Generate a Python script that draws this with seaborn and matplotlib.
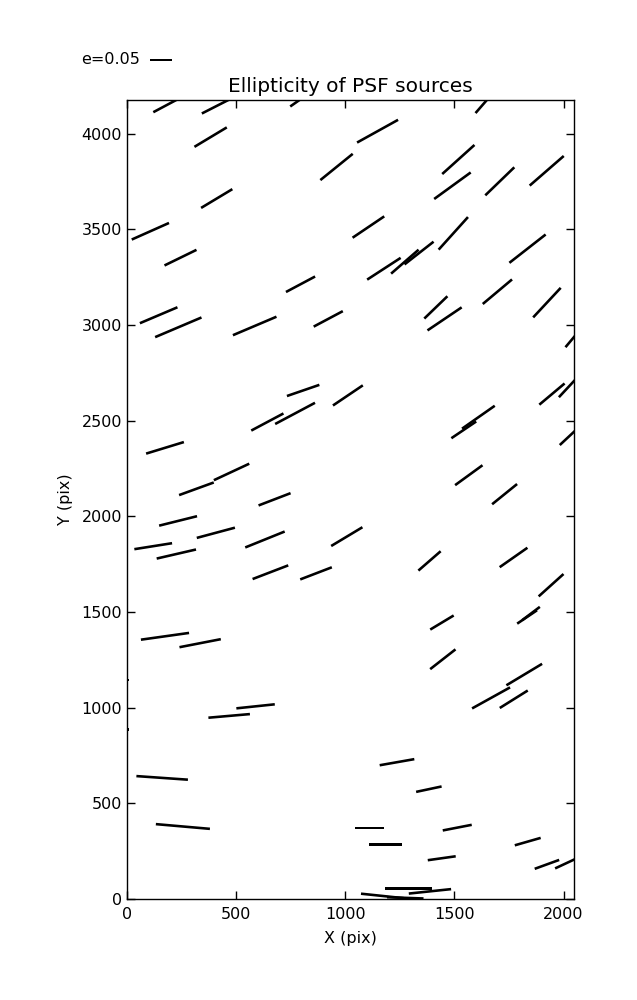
"""PSF ellipticity whisker plot (e, position angle) over the detector."""
import numpy as np
import pandas as pd
import matplotlib
matplotlib.use('Agg')
import matplotlib.pyplot as plt
import seaborn as sns

# source positions (pix), ellipticity and position angle (deg)
src_x = [181, 404, 804, 383, 960, 411, 107, 245, 795, 145, 235, 585, 922,
         1645, 1148, 1518, 1491, 1708, 1923, 1106, 1495, 1177, 1273, 1338, 1835,
         1415, 1455, 1697, 1924, 2053, 807, 643, 770, 1012, 174, 318, 479, 676,
         234, 407, 120, 226, 632, 657, 866, 1007, 174, 1947, 2029, 1543, 1610,
         2033, 1566, 1730, 1386, 1771, 1943, 1443, 1833, 1851, 335, 468, 589,
         161, 256, 1447, 1820, 1668, 1772, 1237, 1383, 1109, 1513, 1184, 1836,
         1442, 1924, 2020, 1291, 1170, 1275, 1388, -40, -40]
src_y = [4149, 4141, 4187, 3982, 3826, 3661, 3490, 3352, 3213, 3051, 2988, 2995, 3032,
         4171, 4013, 3865, 3728, 3751, 3806, 3512, 3479, 3294, 3331, 3376, 3399,
         3092, 3032, 3174, 3117, 2944, 2658, 2493, 2538, 2632, 2358, 2144, 2232, 2089,
         1976, 1914, 1844, 1803, 1879, 1708, 1702, 1894, 1373, 2639, 2684, 2452, 2518,
         2426, 2215, 2116, 1767, 1785, 1640, 1445, 1474, 1492, 1337, 957, 1007,
         633, 379, 1253, 1173, 1051, 1044, 715, 574, 371, 373, 286, 300,
         213, 181, 191, 54, 16, 6, 40, 1144, 886]
ell = [.069, .069, .069, .087, .096, .084, .094, .082, .076, .094, .116, .109, .076,
       .074, .108, .100, .104, .093, .104, .088, .101, .092, .084, .085, .106,
       .074, .095, .088, .093, .069, .079, .084, .104, .083, .091, .085, .090, .079,
       .090, .091, .088, .093, .098, .088, .078, .084, .112, .076, .074, .069, .092,
       .069, .078, .074, .068, .078, .077, .063, .055, .051, .097, .096, .089,
       .119, .125, .074, .096, .100, .076, .081, .060, .067, .068, .075, .062,
       .065, .060, .065, .108, .099, .084, .098, .05, .05]
pa = [28, 27, 35, 31, 39, 31, 24, 26, 28, 23, 23, 23, 28,
      49, 29, 42, 36, 44, 41, 34, 48, 33, 41, 38, 38,
      44, 34, 40, 47, 50, 19, 28, 28, 34, 17, 20, 25, 21,
      14, 15, 9, 13, 22, 21, 21, 31, 8, 40, 47, 34, 35,
      43, 36, 39, 41, 35, 42, 31, 34, 37, 11, 5, 6,
      -4, -5, 38, 31, 29, 32, 10, 12, 0, 11, 0, 16,
      8, 20, 25, 0, -6, -2, 6, 0, 0]

df = pd.DataFrame({'x': src_x, 'y': src_y, 'e': ell, 'pa': pa})
df['u'] = df['e'] * np.cos(np.radians(df['pa']))
df['v'] = df['e'] * np.sin(np.radians(df['pa']))

sns.set_theme(style="ticks", rc={
    'axes.edgecolor': 'black', 'axes.linewidth': 1.0,
    'text.color': 'black', 'axes.labelcolor': 'black',
    'xtick.color': 'black', 'ytick.color': 'black',
    'xtick.direction': 'in', 'ytick.direction': 'in',
    'xtick.major.size': 6, 'ytick.major.size': 6,
})
plt.rcParams['font.family'] = ['DejaVu Sans']

fig = plt.figure(figsize=(6.37, 10), dpi=100)
ax = fig.add_axes([0.1994, 0.101, 0.7017, 0.799])

q = ax.quiver(df['x'], df['y'], df['u'], df['v'], pivot='middle',
              angles='uv', scale_units='dots', scale=1 / 434.0,
              units='dots', width=2.6, headwidth=0, headlength=0,
              headaxislength=0, color='black')
# key: the key arrow is drawn from its tail
ax.quiverkey(q, 0.2355, 0.94, 0.05, 'e=0.05', labelpos='W',
             coordinates='figure', fontproperties={'size': 11.5})

ax.set_xlim(0, 2048)
ax.set_ylim(0, 4176)
ax.set_xticks([0, 500, 1000, 1500, 2000])
ax.set_yticks(np.arange(0, 4001, 500))
ax.tick_params(top=True, right=True, labelsize=11.5, width=1)
ax.tick_params(axis='x', pad=6)
ax.set_xlabel('X (pix)', fontsize=11.5, labelpad=6.5)
ax.set_ylabel('Y (pix)', fontsize=11.5, labelpad=6.5)
ax.set_title('Ellipticity of PSF sources', fontsize=14.5, pad=6)

plt.savefig('out.png', dpi=100)
plt.close('all')
